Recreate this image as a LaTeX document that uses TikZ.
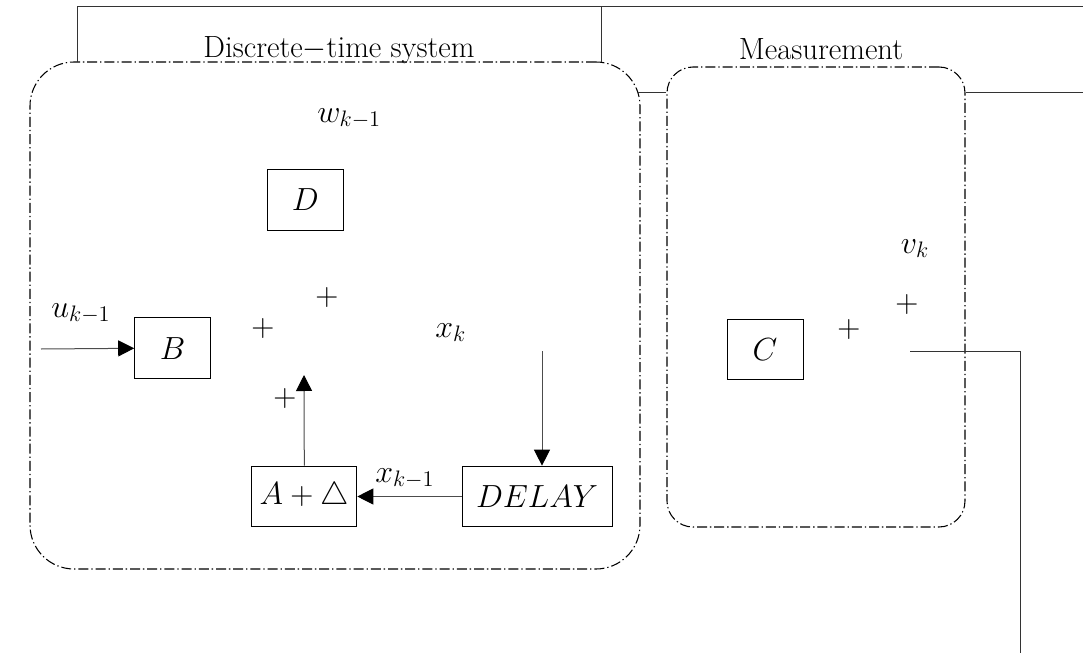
\documentclass[tikz,border=0pt]{standalone}
\usepackage{fix-cm}
\usetikzlibrary{arrows.meta}
\begin{document}
\begin{tikzpicture}[x=0.75pt,y=-0.75pt,
  blk/.style={draw=black, line width=0.75pt, inner sep=0pt, minimum width=57pt, minimum height=45.5pt, font=\fontsize{24}{28}\selectfont},
  lbl/.style={inner sep=0pt, font=\fontsize{24}{28}\selectfont},
  ttl/.style={inner sep=0pt, font=\fontsize{23}{27}\selectfont, anchor=base},
  conn/.style={draw=black!70, line width=0.75pt},
  arr/.style={conn, -{Triangle[length=12pt,width=12pt,color=black]}},
  frame/.style={draw=black, line width=0.8pt, dash pattern=on 7.5pt off 2.2pt on 1pt off 2.2pt, inner sep=0pt},
  wire/.style={draw=black!80, line width=0.75pt}]
\useasboundingbox (0,0) rectangle (1083,653);

% frames
\node[frame, rounded corners=33pt, minimum width=457.5pt, minimum height=380.25pt] (sys) at (335,315.5) {};
\node[frame, rounded corners=19.5pt, minimum width=223.5pt, minimum height=345pt] (meas) at (816,297) {};

% structural solid lines
\coordinate (tl) at (77,62);
\coordinate (tm) at (601,62);
\draw[wire] (tl) -- (77,6) -- (1083,6);
\draw[wire] (tm) -- (601,6);
\coordinate (j1) at (637,92);
\draw[wire] (j1) -- (meas.west |- j1);
\draw[wire] (meas.east |- j1) -- (1083,92);

% titles
\node[ttl] (tsys) at (339,57) {Discrete$-$time system};
\node[ttl] (tmeas) at (821,59) {Measurement};

% blocks
\node[blk] (D) at (305.3,199.7) {$D$};
\node[blk] (B) at (172.7,348.3) {$B$};
\node[blk] (C) at (765,349.5) {$C$};
\node[blk, minimum width=78.75pt] (AD) at (304.3,496.5) {$A+\triangle$};
\node[blk, minimum width=112.5pt] (DL) at (537,496.5) {$DELAY$};

% labels
\node[lbl, anchor=base west] (w) at (317,122) {$w_{k-1}$};
\node[lbl, anchor=base west] (u) at (51,317) {$u_{k-1}$};
\node[lbl, anchor=base west] (xk) at (435,337) {$x_k$};
\node[lbl, anchor=base west] (xk1) at (375,482) {$x_{k-1}$};
\node[lbl, anchor=base west] (vk) at (900.7,253) {$v_k$};

% plus signs
\node[lbl] (p1) at (263,328) {$+$};
\node[lbl] (p2) at (327,297) {$+$};
\node[lbl] (p3) at (285,398) {$+$};
\node[lbl] (p4) at (849,329) {$+$};
\node[lbl] (p5) at (907,304) {$+$};

% connectors
\coordinate (uin) at (41,349);
\draw[arr] (uin) -- (B.west);
\coordinate (sumA) at (304,375);
\draw[arr] (AD.north) -- (sumA);
\coordinate (xkd) at (542,351);
\draw[arr] (xkd) -- (xkd |- DL.north);
\draw[arr] (DL.west) -- (AD.east);
\coordinate (yk) at (910,351);
\coordinate (ycorner) at (1020,351);
\coordinate (yout) at (1020,653);
\draw[wire] (yk) -- (ycorner) -- (yout);
\end{tikzpicture}
\end{document}
